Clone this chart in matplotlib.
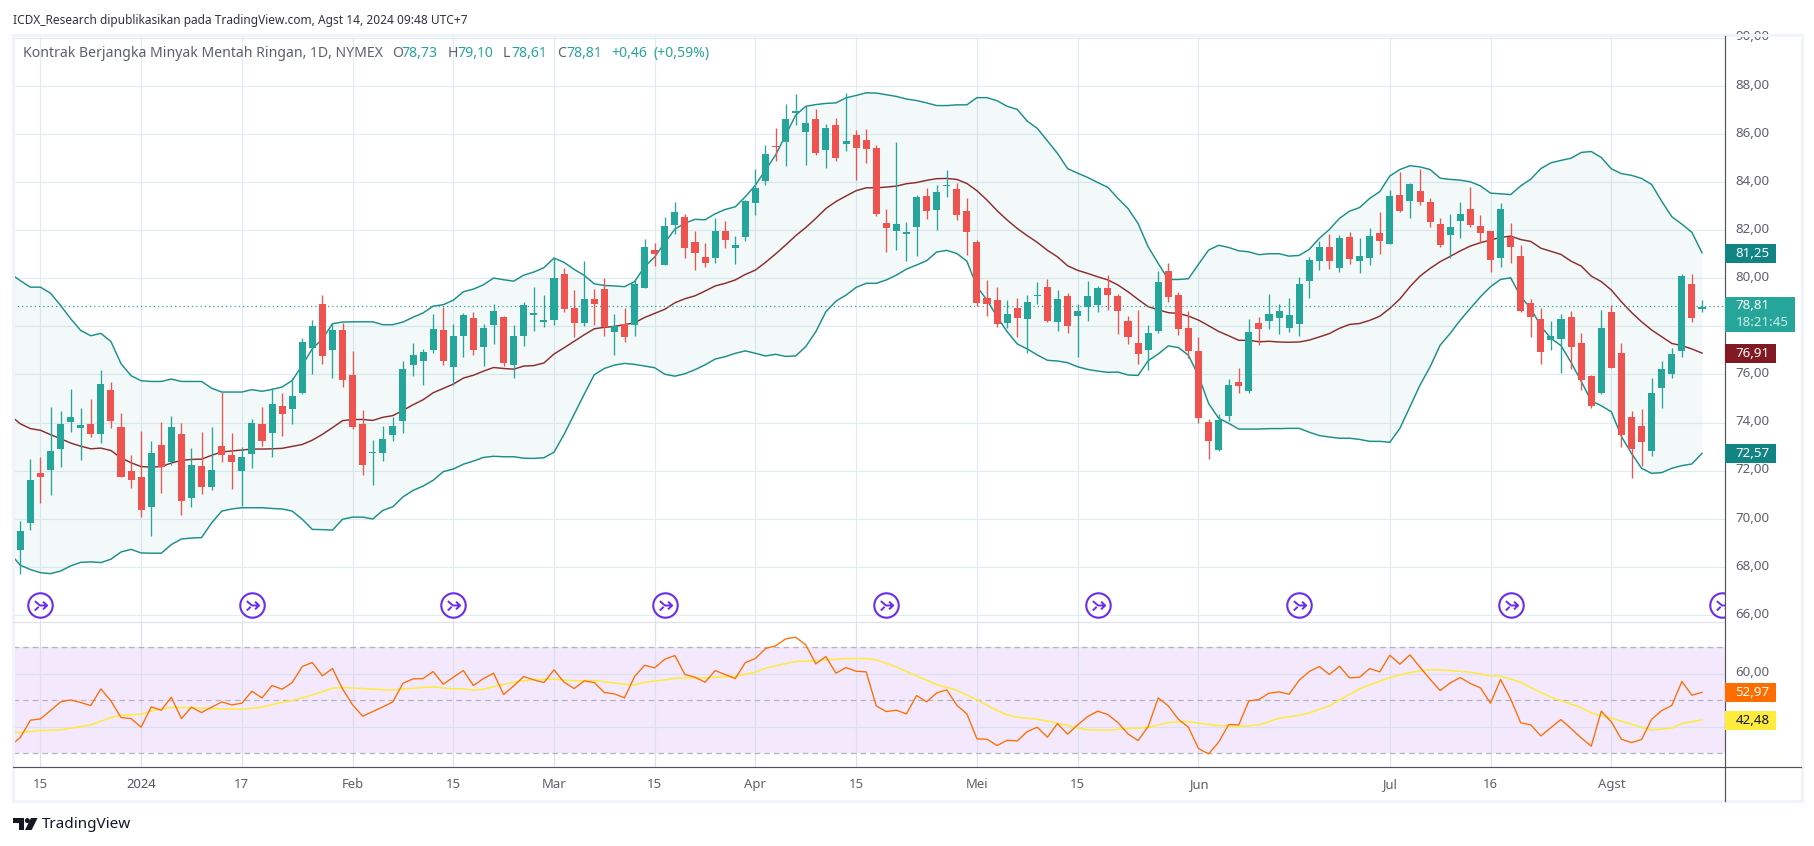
import numpy as np
import matplotlib
matplotlib.use("Agg")
import matplotlib.pyplot as plt
from matplotlib.path import Path
from matplotlib.patches import Rectangle, Polygon, Circle
from matplotlib.ticker import FuncFormatter
from matplotlib.transforms import ScaledTranslation

open_ = [68.69,69.81,71.89,72.01,72.89,74.01,73.76,73.93,73.51,75.34,
 73.80,71.97,71.72,70.48,73.05,72.35,73.51,70.85,72.18,71.31,
 73.01,72.64,71.97,72.68,73.93,73.55,74.67,74.55,75.25,77.12,
 78.91,77.00,77.83,75.96,73.93,72.72,72.72,73.47,74.05,76.38,
 76.54,77.00,77.83,76.32,77.60,78.35,77.14,78.06,78.39,76.39,
 77.60,78.47,78.18,78.26,80.17,78.76,78.14,79.14,79.55,77.76,
 78.10,78.06,79.59,81.17,80.55,82.21,82.54,81.50,80.88,80.84,
 81.96,81.25,81.71,83.12,84.04,85.49,85.66,86.86,86.07,86.61,
 85.33,86.37,85.58,85.95,85.74,85.41,82.29,81.96,81.84,82.13,
 83.42,82.83,83.83,83.71,82.79,81.50,79.18,79.09,78.14,78.76,
 78.30,79.26,79.63,78.18,79.26,78.43,78.80,78.89,79.59,79.26,
 78.22,77.31,77.02,77.81,80.30,79.30,77.93,76.98,74.03,72.86,
 74.27,75.69,75.31,78.14,78.22,78.35,77.93,78.10,79.88,80.71,
 81.30,80.42,81.71,80.71,80.84,81.88,81.42,83.46,83.21,83.62,
 83.17,82.25,81.79,82.38,82.88,82.17,81.96,80.84,81.71,80.92,
 78.97,78.30,77.43,77.47,78.39,77.31,75.94,75.23,78.60,76.89,
 74.23,73.86,72.82,75.44,76.02,76.98,79.76,78.73]
high = [69.89,72.47,72.55,74.63,74.47,75.38,74.59,74.96,76.17,75.67,
 74.38,72.64,73.63,73.22,74.01,74.26,73.97,72.93,73.59,73.80,
 75.27,73.55,72.97,74.17,74.63,75.45,75.25,75.84,77.50,78.25,
 79.29,78.16,78.12,76.96,74.51,73.26,73.84,74.22,76.58,77.29,
 77.08,78.50,78.79,78.10,78.55,78.60,78.10,78.93,78.43,78.06,
 79.01,79.63,79.30,80.88,80.42,79.51,80.71,79.55,80.01,78.51,
 78.76,79.93,81.63,81.46,82.54,83.17,82.67,81.96,81.46,82.50,
 82.38,81.75,83.25,84.54,85.53,86.24,87.24,87.65,87.15,87.03,
 86.41,86.66,87.69,86.16,86.20,85.53,82.88,85.66,82.34,83.46,
 83.75,83.87,84.50,83.96,83.33,81.59,79.93,79.63,79.09,79.18,
 79.30,79.84,79.97,79.51,79.39,78.93,79.88,79.68,80.13,79.34,
 78.43,78.68,78.06,80.30,80.63,79.43,78.64,77.56,74.15,74.36,
 75.81,76.27,78.30,78.39,79.34,78.93,79.18,80.05,80.88,81.55,
 81.84,81.79,81.92,81.67,82.09,82.75,83.66,84.41,83.96,84.54,
 83.33,82.50,82.67,83.17,83.79,82.63,81.96,83.12,82.29,81.38,
 79.14,78.76,78.22,78.51,78.64,77.72,75.98,78.68,78.87,77.31,
 74.48,74.57,75.85,76.56,77.10,80.17,80.17,79.10]
low = [67.69,69.52,70.64,70.98,72.14,73.59,72.43,73.39,73.14,73.76,
 71.72,71.27,70.06,69.27,71.06,72.22,70.14,70.48,71.02,71.18,
 72.35,71.22,70.52,72.10,73.01,72.55,73.43,73.93,75.17,76.04,
 76.42,75.84,75.50,73.72,71.81,71.39,72.39,73.22,73.55,75.92,
 75.55,76.88,76.38,75.56,76.73,76.81,76.35,77.27,76.35,75.85,
 77.18,77.81,77.97,78.06,78.60,77.56,78.01,78.06,77.60,76.81,
 77.35,77.60,79.59,80.51,80.55,81.84,80.84,80.34,80.47,80.63,
 81.25,80.59,81.55,82.63,83.87,84.87,84.66,86.37,84.70,85.12,
 84.58,84.87,85.29,84.08,84.79,82.58,81.09,81.17,80.71,80.92,
 82.46,82.00,83.37,82.42,80.96,78.84,78.43,77.97,77.93,77.56,
 76.89,78.93,78.18,77.81,77.72,76.73,78.22,78.60,78.68,77.68,
 77.27,76.43,76.19,77.72,79.01,77.64,76.68,73.98,72.49,72.82,
 74.07,75.23,75.23,77.22,77.89,77.68,77.76,77.60,79.18,80.34,
 80.38,80.26,80.59,80.22,80.55,81.01,81.42,82.75,82.50,83.04,
 82.13,81.30,80.84,81.67,82.13,81.46,80.26,80.47,80.63,78.60,
 77.56,76.43,77.02,76.06,76.23,75.35,74.61,75.19,76.27,72.99,
 71.70,72.20,72.61,74.61,75.85,76.73,78.18,78.61]
close = [69.48,71.60,71.72,72.80,73.93,74.22,73.88,73.51,75.59,74.05,
 71.72,71.60,70.35,72.72,72.14,73.80,70.73,72.22,71.31,72.01,
 72.64,72.35,72.55,73.97,73.22,74.76,74.34,75.09,77.37,78.00,
 76.75,77.83,75.79,73.80,72.22,72.76,73.30,73.84,76.21,76.83,
 76.92,77.87,76.58,77.60,78.47,77.02,77.93,78.64,76.47,77.60,
 78.89,78.55,78.26,80.01,78.72,78.14,79.14,78.93,77.97,78.01,
 77.56,79.76,81.30,81.01,82.17,82.75,81.25,81.05,80.63,81.96,
 81.59,81.38,83.21,83.75,85.16,85.45,86.61,86.95,86.45,85.20,
 86.24,85.00,85.70,85.41,85.37,82.67,82.09,82.25,81.92,83.37,
 82.79,83.58,83.87,82.63,81.92,78.97,78.93,78.10,78.51,78.35,
 79.01,79.30,78.22,79.14,78.01,78.64,79.26,79.59,79.30,78.64,
 77.56,76.85,77.72,79.84,79.22,77.89,76.98,74.19,73.24,74.11,
 75.56,75.52,77.76,77.89,78.51,78.64,78.47,79.76,80.76,81.30,
 80.71,81.67,80.80,80.92,81.75,81.55,83.42,82.79,83.91,83.17,
 82.34,81.38,82.13,82.67,82.21,81.88,80.76,82.88,81.30,78.64,
 78.39,76.93,77.60,78.30,77.14,75.77,74.69,77.93,76.27,73.48,
 72.90,73.19,75.23,76.23,76.85,80.09,78.35,78.81]

# Bollinger bands: first value belongs to the bar just off the left edge
bb_upper = [80.2,79.9,79.63,79.63,79.38,78.87,78.32,77.83,77.61,77.71,77.37,
 76.45,75.95,75.74,75.71,75.71,75.81,75.71,75.71,75.71,75.43,
 75.27,75.27,75.27,75.37,75.30,75.38,75.48,75.75,76.38,77.07,
 77.48,78.11,78.18,78.19,78.19,78.19,78.07,78.07,78.18,78.38,
 78.56,78.84,78.90,79.09,79.44,79.55,79.73,80.01,79.94,79.88,
 80.13,80.26,80.44,80.84,80.66,80.37,80.12,79.77,79.70,79.68,
 79.65,79.86,80.48,80.89,81.48,82.04,82.29,82.45,82.43,82.68,
 82.86,82.97,83.39,83.87,84.50,85.12,85.95,86.78,87.15,87.22,
 87.27,87.29,87.50,87.60,87.71,87.70,87.63,87.56,87.45,87.39,
 87.29,87.18,87.18,87.21,87.21,87.51,87.51,87.38,87.15,87.02,
 86.53,86.23,85.71,85.19,84.56,84.37,84.19,83.98,83.78,83.32,
 82.90,82.28,81.31,80.62,79.95,79.95,79.98,80.58,81.17,81.37,
 81.28,81.14,81.10,80.98,81.02,81.02,80.92,80.95,81.20,81.66,
 82.03,82.49,82.79,82.94,83.32,83.60,84.25,84.52,84.68,84.63,
 84.52,84.16,84.11,84.08,84.01,83.84,83.54,83.51,83.48,83.84,
 84.12,84.56,84.80,84.90,84.99,85.23,85.27,85.02,84.55,84.35,
 84.28,84.15,83.90,83.20,82.56,82.25,81.91,81.06]
bb_basis = [74.30,73.95,73.75,73.68,73.50,73.33,73.15,73.02,72.91,72.94,72.84,
 72.53,72.33,72.17,72.15,72.17,72.32,72.43,72.47,72.48,72.64,
 72.78,72.82,72.86,72.90,72.90,72.91,72.93,73.01,73.09,73.27,
 73.51,73.79,74.08,74.13,74.13,74.09,74.22,74.29,74.51,74.74,
 74.95,75.24,75.42,75.60,75.85,75.97,76.14,76.29,76.25,76.22,
 76.35,76.37,76.48,76.85,77.11,77.38,77.65,77.90,77.96,78.00,
 78.07,78.15,78.37,78.54,78.71,78.98,79.15,79.27,79.47,79.68,
 79.79,79.93,80.16,80.34,80.66,81.01,81.38,81.77,82.11,82.49,
 82.90,83.19,83.42,83.64,83.76,83.76,83.79,83.83,83.93,83.98,
 84.07,84.14,84.15,84.11,83.94,83.64,83.25,82.81,82.42,82.07,
 81.77,81.49,81.16,80.89,80.52,80.33,80.20,80.06,79.93,79.72,
 79.44,79.12,78.82,78.69,78.57,78.54,78.43,78.26,78.03,77.79,
 77.61,77.42,77.42,77.36,77.38,77.35,77.34,77.35,77.43,77.56,
 77.70,77.92,78.08,78.12,78.25,78.42,78.75,79.14,79.65,80.09,
 80.41,80.69,80.91,81.14,81.34,81.48,81.59,81.70,81.75,81.61,
 81.53,81.25,81.12,80.99,80.71,80.51,80.09,79.86,79.51,79.02,
 78.58,78.19,77.85,77.57,77.29,77.20,77.06,76.89]
bb_lower = [68.55,68.07,67.89,67.76,67.72,67.83,68.04,68.19,68.21,68.18,68.32,
 68.62,68.73,68.58,68.57,68.57,68.93,69.16,69.20,69.22,69.83,
 70.32,70.41,70.46,70.46,70.46,70.43,70.41,70.32,69.98,69.56,
 69.55,69.53,69.98,70.07,70.07,69.99,70.35,70.50,70.91,71.18,
 71.36,71.60,71.96,72.07,72.27,72.40,72.55,72.60,72.58,72.58,
 72.52,72.51,72.54,72.77,73.51,74.35,75.18,75.99,76.25,76.39,
 76.46,76.42,76.35,76.28,76.01,75.93,76.03,76.2,76.4,76.64,
 76.74,76.88,76.98,76.88,76.77,76.84,76.75,76.77,77.16,77.78,
 78.61,79.05,79.30,79.62,79.79,79.79,79.93,80.13,80.38,80.55,
 80.73,81.09,81.16,81.03,80.71,79.65,79.09,78.40,77.78,77.27,
 77.06,76.81,76.59,76.56,76.49,76.32,76.21,76.14,76.09,76.10,
 75.98,75.96,76.57,76.85,77.19,77.12,76.80,75.95,74.80,74.18,
 73.97,73.73,73.73,73.73,73.75,73.75,73.76,73.76,73.60,73.46,
 73.40,73.35,73.35,73.30,73.22,73.22,73.18,73.76,74.66,75.56,
 76.32,77.22,77.71,78.26,78.75,79.23,79.65,79.95,80.02,79.23,
 78.75,78.00,77.50,77.20,76.50,75.72,74.90,74.70,74.45,73.42,
 72.72,72.10,71.89,71.92,72.10,72.21,72.28,72.72]

rsi = [32.8,35.91,42.45,42.96,46.10,49.37,50.13,49.12,47.99,54.28,49.75,
 43.46,43.08,39.81,47.48,46.23,51.13,43.08,47.36,45.35,47.36,
 49.37,48.24,48.87,53.40,50.88,55.54,54.15,56.67,62.71,64.22,
 59.18,61.95,54.28,48.24,43.96,45.72,47.48,49.37,56.42,58.05,
 58.18,60.82,56.04,58.68,61.20,55.54,58.18,60.19,52.14,55.41,
 58.93,57.67,56.67,61.45,56.79,54.40,57.30,56.67,52.89,52.39,
 50.88,58.93,63.21,62.20,65.47,66.86,59.69,58.68,56.79,61.20,
 59.69,58.18,64.22,65.73,69.50,70.51,73.15,73.78,70.88,63.71,
 66.48,60.19,62.33,60.94,60.69,47.86,45.72,46.23,44.84,51.76,
 49.37,52.77,53.90,48.11,44.84,35.41,35.28,32.89,34.90,34.65,
 38.17,39.81,36.04,41.19,37.17,40.69,43.84,45.85,44.59,41.57,
 37.29,34.78,40.06,50.88,47.86,42.83,39.81,31.76,29.75,34.15,
 40.82,40.69,49.75,50.25,52.64,53.15,52.26,57.55,60.82,62.71,
 59.69,62.83,58.43,58.68,61.95,60.69,66.98,63.59,67.11,62.45,
 57.93,53.65,56.54,58.55,56.29,54.65,48.87,57.80,50.50,41.45,
 40.69,36.54,39.68,42.70,39.31,35.78,32.64,45.85,41.82,35.28,
 34.02,35.16,42.83,46.10,47.99,57.04,51.89,52.97]

rsi_ma_bar = [-1,0,2,4,6,7,9,10,12,13,15,17,19,22,24,26,27,29,31,32,34,37,38,41,43,44,45,46,47,49,51,53,55,57,
 60,61,62,64,65,68,71,73,74,76,77,79,81,82,84,85,87,89,91,93,95,97,98,99,101,103,105,106,108,110,112,113,114,116,117,
 119,121,123,125,127,128,130,131,133,134,136,138,140,142,144,146,147,149,150,152,155,156,158,160,161,162,164,165,167]
rsi_ma = [38.2,37.80,38.55,38.80,40.06,40.69,43.46,44.34,44.72,45.97,47.23,47.23,46.85,46.60,47.36,49.25,49.87,52.01,54.53,54.78,54.40,53.77,54.28,55.03,54.28,54.28,53.77,54.15,55.16,56.79,57.80,57.93,57.30,57.42,
 56.04,55.79,56.79,57.67,58.30,58.43,59.06,60.57,62.08,63.84,64.59,64.97,65.47,65.73,65.73,65.22,62.58,59.18,55.91,53.77,50.13,46.10,44.46,43.58,42.83,41.32,39.56,38.80,38.68,39.31,39.68,40.69,41.57,41.95,41.32,
 40.44,40.06,40.69,43.21,44.34,45.22,47.86,50.13,54.28,55.79,58.55,60.44,61.57,61.20,60.57,59.18,59.06,56.79,54.78,51.13,47.23,45.22,43.21,40.94,39.81,38.80,39.43,41.19,42.58]

roll_bars = [2, 23, 43, 64, 86, 107, 127, 148, 169]
tick_bars = [2, 12, 22, 33, 43, 53, 63, 73, 83, 95, 105, 117, 136, 146, 158]
tick_labels = ["15", "2024", "17", "Feb", "15", "Mar", "15", "Apr", "15", "Mei", "15", "Jun", "Jul", "16", "Agst"]
price_ticks = list(range(66, 91, 2))
price_hidden = [78]      # covered by the last-price box in the reference
rsi_ticks = [40, 60]
rsi_hidden = [40]        # covered by the yellow box in the reference
rsi_levels = [30, 50, 70]
last_price = 78.84

W, H = 1814, 846
FONT = "Noto Sans"
plt.rcParams["font.family"] = FONT
GREEN, RED = "#26a69a", "#ef5350"
BAND, MID = "#1b8f8a", "#8c2d2d"
GRID = "#e1ebf2"
AX_LINE = "#50535e"
TXT = "#5d606b"

fig = plt.figure(figsize=(W / 100, H / 100), dpi=100, facecolor="white")

def pane(left, right, top, bottom):
    return fig.add_axes([left / W, 1 - bottom / H, (right - left) / W, (bottom - top) / H])

def comma_skip(hidden):
    return FuncFormatter(lambda v, _: "" if round(v) in hidden else f"{v:.2f}".replace(".", ","))

L, R = 13.3, 1724.7
ax = pane(L, R, 37, 622)
ar = pane(L, R, 622.3, 767)
BAR0, STEP = 20.3, 10.07
xlim = ((L - BAR0) / STEP, (R - BAR0) / STEP)
for a in (ax, ar):
    a.set_xlim(*xlim)
    a.set_facecolor("white")
    for s in a.spines.values():
        s.set_visible(False)
    a.set_axisbelow(True)
    a.set_xticks(tick_bars)
    a.grid(True, color=GRID, lw=0.85)
ax.set_ylim(65.71, 90.03)
ar.set_ylim(24.8, 79.4)

bars = np.arange(len(close))
band_x = np.arange(len(bb_upper)) - 1

ax.yaxis.tick_right()
ax.set_yticks(price_ticks)
ax.yaxis.set_major_formatter(comma_skip(price_hidden))
ax.tick_params(axis="y", length=0, pad=7.5, labelsize=9.6, labelcolor=TXT)
ax.tick_params(axis="x", length=0, labelbottom=False)
lift = ScaledTranslation(0, 1.6 / 72, fig.dpi_scale_trans)
for lab in ax.get_yticklabels():
    lab.set_transform(lab.get_transform() + lift)

ax.fill_between(band_x, bb_lower, bb_upper, color=BAND, alpha=0.05, lw=0, zorder=1.5)
ax.plot(band_x, bb_upper, color=BAND, lw=1.05, zorder=2)
ax.plot(band_x, bb_lower, color=BAND, lw=1.05, zorder=2)
ax.plot(band_x, bb_basis, color=MID, lw=1.05, zorder=2)
ax.axhline(last_price, color=GREEN, lw=0.9, ls=(0, (1, 2.4)), zorder=2.5)

for x, o, h, l, c in zip(bars, open_, high, low, close):
    col = GREEN if c >= o else RED
    ax.vlines(x, l, h, color=col, lw=0.95, zorder=3)
    ax.bar(x, max(abs(c - o), 0.06), bottom=min(o, c), width=0.7, color=col, lw=0, zorder=3.2)

# roll markers
arrow = Path([(-0.62, 0.48), (-0.05, 0.0), (0.72, 0.0), (0.28, 0.42), (0.72, 0.0), (0.28, -0.42),
              (-0.2, -0.14), (-0.62, -0.55)],
             [Path.MOVETO, Path.LINETO, Path.LINETO, Path.MOVETO, Path.LINETO, Path.LINETO,
              Path.MOVETO, Path.LINETO])
roll_y = [66.40] * len(roll_bars)
ax.plot(roll_bars, roll_y, ls="", marker="o", ms=17.6, mfc="white", mec="#6a2cf0", mew=1.5, zorder=4)
ax.plot(roll_bars, roll_y, ls="", marker=arrow, ms=9.5, mfc="none", mec="#6a2cf0", mew=1.4, zorder=4.1)

# RSI pane
ar.yaxis.tick_right()
ar.set_yticks(rsi_ticks)
ar.yaxis.set_major_formatter(comma_skip(rsi_hidden))
ar.tick_params(axis="y", length=0, pad=7.5, labelsize=9.6, labelcolor=TXT)
for lab in ar.get_yticklabels():
    lab.set_transform(lab.get_transform() + lift)
ar.set_xticklabels(tick_labels)
ar.tick_params(axis="x", length=0, pad=8.2, labelsize=9.4, labelcolor=TXT)
for lab in ar.get_xticklabels():
    if lab.get_text() == "2024":
        lab.set_fontweight("bold")
        lab.set_color("#50535e")
ar.axhspan(rsi_levels[0], rsi_levels[-1], color="#9c27e8", alpha=0.10, lw=0, zorder=0.5)
ar.grid(True, color="#dcdff0", lw=0.85)
for lv in rsi_levels:
    ar.axhline(lv, color="#b2b5be", lw=0.9, ls=(0, (4.5, 3.2)), zorder=1.2)
ar.plot(rsi_ma_bar, rsi_ma, color="#ffeb3b", lw=1.1, zorder=2)
ar.plot(band_x, rsi, color="#ff6d00", lw=0.95, zorder=2.2)

# chrome drawn in picture pixels
ov = fig.add_axes([0, 0, 1, 1], zorder=10)
ov.set_xlim(0, W)
ov.set_ylim(H, 0)
ov.axis("off")
FRAME = "#f0f3fa"
ov.add_patch(Rectangle((12.8, 35), 1801.5 - 12.8, 801.5 - 35, fill=False, ec=FRAME, lw=2.2))
ov.plot([L, R], [622.3, 622.3], color="#e0e3eb", lw=0.9)
ov.plot([L, 1801], [767, 767], color=AX_LINE, lw=0.85)
ov.plot([R, R], [36, 801], color=AX_LINE, lw=0.85)

ov.text(13.3, 20.5, "ICDX_Research dipublikasikan pada TradingView.com, Agst 14, 2024 09:48 UTC+7",
        fontsize=8.58, color="#30333d", va="center", ha="left")
HS = 10.1
ov.text(23.3, 53.5, "Kontrak Berjangka Minyak Mentah Ringan, 1D, NYMEX", fontsize=HS, color=TXT, va="center")
head = [(391.7, "O", TXT), (401.7, "78,73", GREEN), (447.7, "H", TXT), (457, "79,10", GREEN),
        (503, "L", TXT), (511.7, "78,61", GREEN), (556.7, "C", TXT), (566.7, "78,81", GREEN),
        (611.7, "+0,46", GREEN), (654, "(+0,59%)", GREEN)]
for x, s, c in head:
    ov.text(x, 53.5, s, fontsize=HS, color=c, va="center")

def label(y0, y1, right, color, text, tcolor="white", weight="normal"):
    ov.add_patch(Rectangle((R, y0), right - R, y1 - y0, fc=color, ec="none", zorder=3))
    ov.text(1735.5, (y0 + y1) / 2, text, fontsize=9.6, color=tcolor, va="center", ha="left", zorder=4,
            fontweight=weight)

label(243.8, 262.8, 1776, "#138484", "81,25", weight="medium")
label(343.8, 362.8, 1776, "#801922", "76,91", weight="medium")
label(443.8, 462.8, 1776, "#138484", "72,57", weight="medium")
label(683, 701.7, 1775.6, "#ff6d00", "52,97", weight="medium")
label(711, 729.7, 1775.6, "#ffeb3b", "42,48", tcolor="#131722")
ov.add_patch(Rectangle((R, 297.3), 1795 - R, 34.7, fc=GREEN, ec="none", zorder=3))
ov.text(1735.5, 305.8, "78,81", fontsize=9.6, color="white", va="center", zorder=4)
ov.text(1735.5, 322.5, "18:21:45", fontsize=9.6, color="#cdeee9", va="center", zorder=4)

# TradingView logo
ov.add_patch(Polygon([(13.4, 818), (24.2, 818), (24.2, 830), (18.8, 830), (18.8, 823), (13.4, 823)], fc="#131722", ec="none"))
ov.add_patch(Circle((27.4, 820.6), 2.5, fc="#131722", ec="none"))
ov.add_patch(Polygon([(31, 818), (37.6, 818), (31.6, 830), (25, 830)], fc="#131722", ec="none"))
ov.text(42, 824, "TradingView", fontsize=11, color="#131722", va="center", ha="left")

fig.savefig("out.png", dpi=100)
